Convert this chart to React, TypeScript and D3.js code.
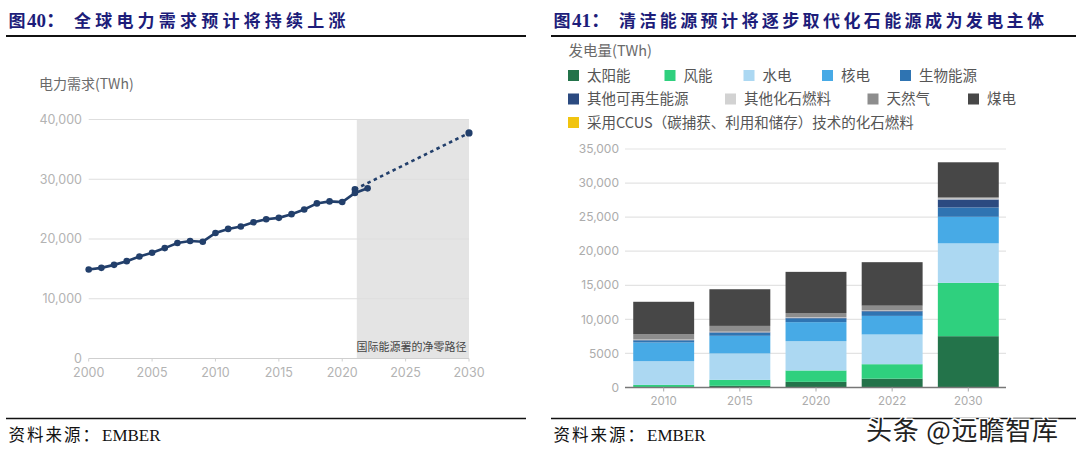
import React from "react";
import * as d3 from "d3";

// ---------- Left chart data ----------
const demandYears = [2000, 2001, 2002, 2003, 2004, 2005, 2006, 2007, 2008, 2009, 2010, 2011, 2012, 2013, 2014, 2015, 2016, 2017, 2018, 2019, 2020, 2021, 2022];
const demandValues = [14890, 15170, 15670, 16290, 17080, 17700, 18480, 19330, 19660, 19550, 21010, 21690, 22080, 22810, 23310, 23540, 24160, 24940, 25960, 26290, 26180, 27700, 28480];
const netZeroYears = [2021, 2030];
const netZeroValues = [28310, 37750];
const forecastBandStart = 2021.15;
const leftYTicks = [0, 10000, 20000, 30000, 40000];
const leftYTickLabels = ["0", "10,000", "20,000", "30,000", "40,000"];
const leftXTicks = [2000, 2005, 2010, 2015, 2020, 2025, 2030];

// ---------- Right chart data ----------
const barYears = ["2010", "2015", "2020", "2022", "2030"];
const seriesNames = ["太阳能", "风能", "水电", "核电", "生物能源", "其他可再生能源", "其他化石燃料", "天然气", "煤电", "采用CCUS（碳捕获、利用和储存）技术的化石燃料"];
const solar = [30, 250, 830, 1300, 7530];
const wind = [350, 870, 1670, 2120, 7830];
const hydro = [3480, 3880, 4300, 4360, 5790];
const nuclear = [2750, 2590, 2790, 2730, 3900];
const bio = [300, 450, 560, 640, 1380];
const otherRen = [50, 70, 80, 90, 1170];
const otherFossil = [80, 80, 80, 70, 160];
const gas = [800, 850, 620, 700, 150];
const coal = [4740, 5380, 6040, 6380, 5140];
const ccus = [0, 0, 0, 0, 0];
const seriesColors = ["#23734a", "#2fd07e", "#acd8f2", "#47aae6", "#2f74b2", "#2b4a80", "#d2d2d2", "#8d8d8d", "#474747", "#f1c40f"];
const rightYTicks = [0, 5000, 10000, 15000, 20000, 25000, 30000, 35000];
const rightYTickLabels = ["0", "5000", "10,000", "15,000", "20,000", "25,000", "30,000", "35,000"];

const allSeries = [solar, wind, hydro, nuclear, bio, otherRen, otherFossil, gas, coal, ccus];

const SANS = "Inter, 'Noto Sans CJK SC', sans-serif";
const CJK = "'Noto Sans CJK SC', sans-serif";
const SERIF = "'Liberation Serif', 'Noto Sans CJK SC', serif";

// legend layout (rows of [seriesIndex, x])
const legendRows: [number, number][][] = [
  [[0, 568], [1, 664.5], [2, 743.5], [3, 822], [4, 900]],
  [[5, 568], [6, 725], [7, 867.5], [8, 968]],
  [[9, 568]],
];
const legendRowY = [75.5, 99, 122.5];

export default function App() {
  // left scales
  const xL = d3.scaleLinear().domain([2000, 2030]).range([88.7, 469]);
  const yL = d3.scaleLinear().domain([0, 40000]).range([358.5, 119.5]);
  const histLine = d3
    .line<number>()
    .x((_, i) => xL(demandYears[i]))
    .y((d) => yL(d));
  const nzLine = d3
    .line<number>()
    .x((_, i) => xL(netZeroYears[i]))
    .y((d) => yL(d));

  // right scales
  const xR = d3.scaleBand<string>().domain(barYears).range([618, 1014]).paddingInner(0.2).paddingOuter(0.2);
  const yR = d3.scaleLinear().domain([0, 35000]).range([387.5, 149]);
  const table = barYears.map((y, i) => {
    const row: any = { year: y };
    allSeries.forEach((s, k) => (row["s" + k] = s[i]));
    return row;
  });
  const stacked = d3.stack<any>().keys(allSeries.map((_, k) => "s" + k))(table);

  return (
    <svg width={1080} height={451} style={{ position: "absolute", left: 0, top: 0, background: "#fff" }}>
      <rect x={0} y={0} width={1080} height={451} fill="#fff" />
      {/* ===== Titles ===== */}
      <text y={27} fontFamily={SERIF} fontWeight="bold" fontSize={17} fill="#1d1d7a">
        <tspan x={8.5}>图</tspan>
        <tspan x={27} fontSize={19}>40：</tspan>
        <tspan x={74} letterSpacing={4.2}>全球电力需求预计将持续上涨</tspan>
      </text>
      <line x1={6} x2={526} y1={36} y2={36} stroke="#111" strokeWidth={2} />
      <text y={27} fontFamily={SERIF} fontWeight="bold" fontSize={17} fill="#1d1d7a">
        <tspan x={553.5}>图</tspan>
        <tspan x={572} fontSize={19}>41：</tspan>
        <tspan x={619} letterSpacing={3.4}>清洁能源预计将逐步取代化石能源成为发电主体</tspan>
      </text>
      <line x1={551} x2={1076} y1={36} y2={36} stroke="#111" strokeWidth={2} />

      {/* ===== Left chart ===== */}
      <text x={39} y={89} fontFamily={CJK} fontSize={14} fill="#6a6a6a">电力需求(TWh)</text>
      <rect x={xL(forecastBandStart)} y={yL(40000)} width={xL(2030) - xL(forecastBandStart)} height={yL(0) - yL(40000)} fill="#e4e4e4" />
      {leftYTicks.map((t, i) => (
        <g key={"ly" + t}>
          {t > 0 && <line x1={xL(2000)} x2={xL(2030)} y1={yL(t)} y2={yL(t)} stroke="#dedede" strokeWidth={1.2} />}
          <text x={82} y={yL(t)} dy="0.35em" textAnchor="end" fontFamily={SANS} fontSize={12.5} fill="#b3b3b3">
            {leftYTickLabels[i]}
          </text>
        </g>
      ))}
      <line x1={xL(2000)} x2={xL(2030)} y1={yL(0)} y2={yL(0)} stroke="#cfcfcf" strokeWidth={1.2} />
      {leftXTicks.map((t) => (
        <g key={"lx" + t}>
          <line x1={xL(t)} x2={xL(t)} y1={yL(0)} y2={yL(0) + 3} stroke="#cfcfcf" strokeWidth={1} />
          <text x={xL(t)} y={373} dy="0.35em" textAnchor="middle" fontFamily={SANS} fontSize={12.5} fill="#b3b3b3">
            {t}
          </text>
        </g>
      ))}
      <text x={466.5} y={347} dy="0.35em" textAnchor="end" fontFamily={CJK} fontSize={11} fill="#454545">
        国际能源署的净零路径
      </text>
      <path d={nzLine(netZeroValues) || ""} fill="none" stroke="#223f6b" strokeWidth={2.6} strokeDasharray="3.5,3.5" />
      <circle cx={xL(netZeroYears[0])} cy={yL(netZeroValues[0])} r={3.3} fill="#223f6b" />
      <circle cx={xL(netZeroYears[1])} cy={yL(netZeroValues[1])} r={3.6} fill="#223f6b" />
      <path d={histLine(demandValues) || ""} fill="none" stroke="#223f6b" strokeWidth={2.6} />
      {demandValues.map((v, i) => (
        <circle key={"p" + i} cx={xL(demandYears[i])} cy={yL(v)} r={3.3} fill="#223f6b" />
      ))}

      {/* ===== Right chart ===== */}
      <text x={568.5} y={56} fontFamily={CJK} fontSize={14.5} fill="#6a6a6a">发电量(TWh)</text>
      {legendRows.map((row, r) =>
        row.map(([k, x]) => (
          <g key={"lg" + k}>
            <rect x={x} y={legendRowY[r] - 5.5} width={11} height={11} fill={seriesColors[k]} />
            <text x={x + 19} y={legendRowY[r]} dy="0.36em" fontFamily={CJK} fontSize={14.5} fill="#555">
              {seriesNames[k]}
            </text>
          </g>
        ))
      )}
      {rightYTicks.map((t, i) => (
        <g key={"ry" + t}>
          {t > 0 && <line x1={625} x2={1006} y1={yR(t)} y2={yR(t)} stroke="#e3e3e3" strokeWidth={1.2} />}
          <text x={619} y={yR(t)} dy="0.35em" textAnchor="end" fontFamily={SANS} fontSize={12} fill="#acacac">
            {rightYTickLabels[i]}
          </text>
        </g>
      ))}
      {stacked.map((layer, k) => (
        <g key={"layer" + k} fill={seriesColors[k]}>
          {layer.map((d, i) =>
            d[1] > d[0] ? (
              <rect key={i} x={xR(barYears[i])} y={yR(d[1])} width={xR.bandwidth()} height={yR(d[0]) - yR(d[1])} />
            ) : null
          )}
        </g>
      ))}
      <line x1={625} x2={1006} y1={yR(0)} y2={yR(0)} stroke="#777" strokeWidth={1.3} />
      {barYears.map((y) => (
        <g key={"rx" + y}>
          <line x1={(xR(y) || 0) + xR.bandwidth() / 2} x2={(xR(y) || 0) + xR.bandwidth() / 2} y1={yR(0)} y2={yR(0) + 4} stroke="#aaa" strokeWidth={1} />
          <text x={(xR(y) || 0) + xR.bandwidth() / 2} y={400.5} dy="0.35em" textAnchor="middle" fontFamily={SANS} fontSize={11.5} fill="#acacac">
            {y}
          </text>
        </g>
      ))}

      {/* ===== Footers ===== */}
      <line x1={6} x2={526} y1={418.5} y2={418.5} stroke="#111" strokeWidth={1.5} />
      <text y={441} fontSize={16.5} fill="#111">
        <tspan x={8.5} fontFamily={CJK} letterSpacing={2}>资料来源：</tspan>
        <tspan x={102} fontFamily="'Liberation Serif', serif" fontSize={17}>EMBER</tspan>
      </text>
      <line x1={551} x2={1076} y1={418.5} y2={418.5} stroke="#111" strokeWidth={1.5} />
      <text y={441} fontSize={16.5} fill="#111">
        <tspan x={553.5} fontFamily={CJK} letterSpacing={2}>资料来源：</tspan>
        <tspan x={647} fontFamily="'Liberation Serif', serif" fontSize={17}>EMBER</tspan>
      </text>
      <text x={866} y={440} fontFamily={CJK} fontSize={26} letterSpacing={0.8} fill="#222" stroke="#fff" strokeWidth={3} paintOrder="stroke">
        头条 @远瞻智库
      </text>
    </svg>
  );
}
